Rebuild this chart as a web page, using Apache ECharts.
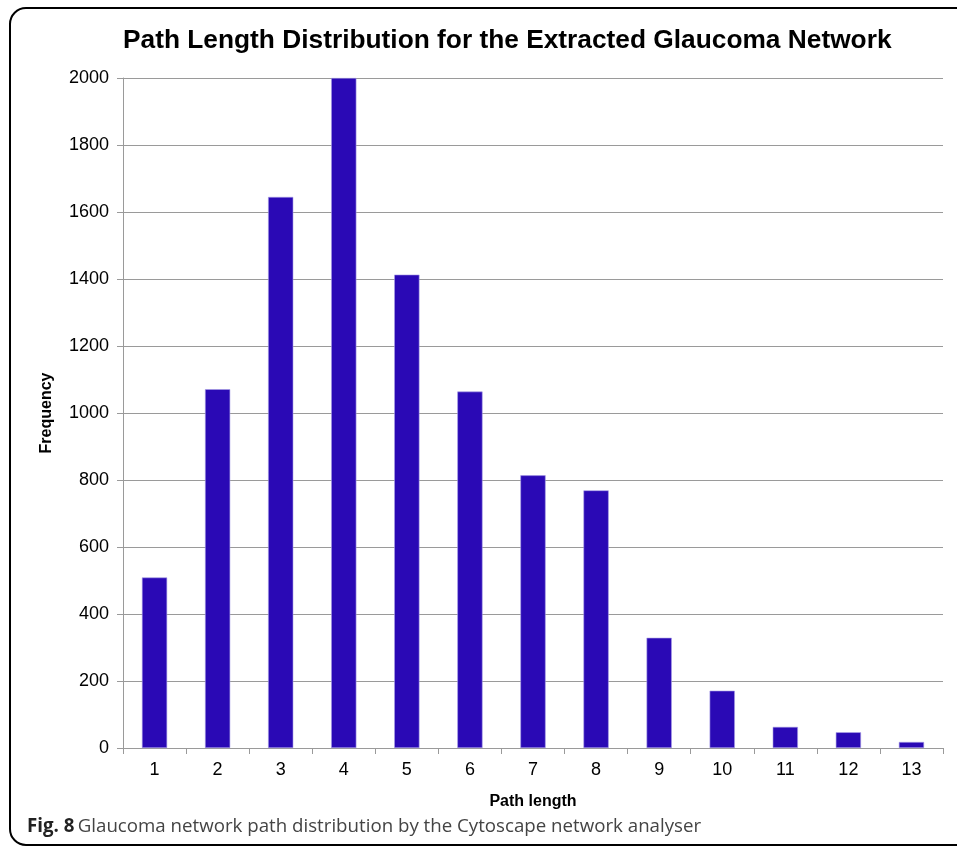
<!DOCTYPE html>
<html>
<head>
<meta charset="utf-8">
<script src="https://cdn.jsdelivr.net/npm/echarts@6/dist/echarts.min.js"></script>
<style>
  html, body { margin: 0; padding: 0; background: #fff; }
  #chart { width: 957px; height: 848px; }
</style>
</head>
<body>
<div id="chart"></div>
<script>
const pathLengths = ['1', '2', '3', '4', '5', '6', '7', '8', '9', '10', '11', '12', '13'];
const frequency = [509, 1071, 1645, 2000, 1413, 1064, 814, 769, 329, 171, 63, 47, 18];

const chart = echarts.init(document.getElementById('chart'));

const axisGray = '#9a9a9a';

chart.setOption({
  animation: false,
  title: {
    text: 'Path Length Distribution for the Extracted Glaucoma Network',
    left: 118,
    top: 23,
    textStyle: {
      fontFamily: 'Liberation Sans',
      fontSize: 26.3,
      fontWeight: 'bold',
      color: '#000'
    }
  },
  grid: {
    left: 123,
    right: 14,
    top: 78,
    bottom: 100,
    containLabel: false
  },
  xAxis: {
    type: 'category',
    data: pathLengths,
    name: 'Path length',
    nameLocation: 'middle',
    nameGap: 46,
    nameTextStyle: {
      fontFamily: 'Liberation Sans',
      fontSize: 16,
      fontWeight: 'bold',
      color: '#000'
    },
    axisLine: { lineStyle: { color: axisGray, width: 1 } },
    axisTick: { show: true, length: 6, alignWithLabel: false, lineStyle: { color: axisGray } },
    axisLabel: {
      margin: 13,
      fontFamily: 'Liberation Sans',
      fontSize: 18,
      color: '#000'
    }
  },
  yAxis: {
    type: 'value',
    min: 0,
    max: 2000,
    interval: 200,
    name: 'Frequency',
    nameLocation: 'middle',
    nameGap: 68,
    nameTextStyle: {
      fontFamily: 'Liberation Sans',
      fontSize: 16,
      fontWeight: 'bold',
      color: '#000'
    },
    axisLine: { show: true, lineStyle: { color: axisGray, width: 1 } },
    axisTick: { show: true, length: 6, lineStyle: { color: axisGray } },
    axisLabel: {
      margin: 14,
      fontFamily: 'Liberation Sans',
      fontSize: 18,
      color: '#000',
      formatter: (v) => String(v)
    },
    splitLine: { show: true, lineStyle: { color: axisGray, width: 1 } }
  },
  series: [{
    type: 'bar',
    data: frequency,
    barWidth: '40%',
    itemStyle: {
      color: '#2a09b5',
      borderColor: '#a89ee6',
      borderWidth: 0.6
    }
  }],
  graphic: [
    {
      type: 'rect',
      shape: { x: 10, y: 8, width: 980, height: 837, r: 16 },
      style: { fill: 'none', stroke: '#000', lineWidth: 2 },
      z: 100
    },
    {
      type: 'text',
      left: 27,
      top: 817,
      style: {
        text: '{b|Fig. 8} {n|Glaucoma network path distribution by the Cytoscape network analyser}',
        rich: {
          b: { fontFamily: 'Open Sans', fontSize: 18.7, fontWeight: 'bold', fill: '#222' },
          n: { fontFamily: 'Open Sans', fontSize: 18.7, fill: '#444' }
        }
      }
    }
  ]
});
</script>
</body>
</html>
